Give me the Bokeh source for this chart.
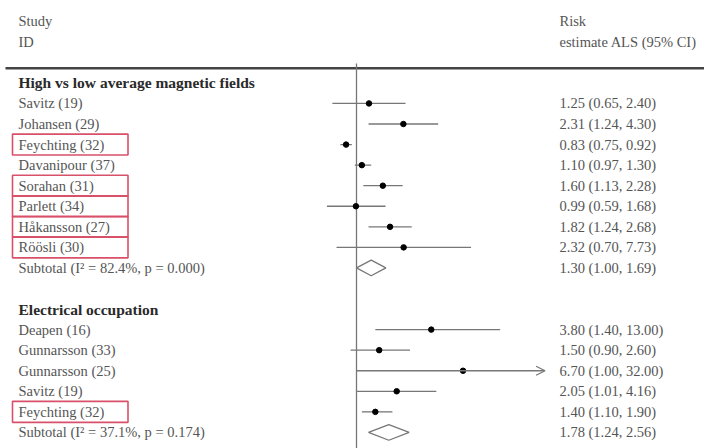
import math
from bokeh.plotting import figure
from bokeh.models import Range1d, ColumnDataSource, Arrow, OpenHead
from bokeh.core.properties import value
from bokeh.embed import file_html
from bokeh.resources import INLINE

# ---------------- data ----------------
group_names = ["High vs low average magnetic fields", "Electrical occupation"]

g1_studies = ["Savitz (19)", "Johansen (29)", "Feychting (32)", "Davanipour (37)",
              "Sorahan (31)", "Parlett (34)", "Håkansson (27)", "Röösli (30)"]
g1_est = [1.25, 2.31, 0.83, 1.10, 1.60, 0.99, 1.82, 2.32]
g1_lo = [0.65, 1.24, 0.75, 0.97, 1.13, 0.59, 1.24, 0.70]
g1_hi = [2.40, 4.30, 0.92, 1.30, 2.28, 1.68, 2.68, 7.73]
g1_boxed = [False, False, True, False, True, True, True, True]
g1_subtotal_label = "Subtotal (I² = 82.4%, p = 0.000)"
g1_subtotal = [1.30, 1.00, 1.69]

g2_studies = ["Deapen (16)", "Gunnarsson (33)", "Gunnarsson (25)", "Savitz (19)", "Feychting (32)"]
g2_est = [3.80, 1.50, 6.70, 2.05, 1.40]
g2_lo = [1.40, 0.90, 1.00, 1.01, 1.10]
g2_hi = [13.00, 2.60, 32.00, 4.16, 1.90]
g2_boxed = [False, False, False, False, True]
g2_subtotal_label = "Subtotal (I² = 37.1%, p = 0.174)"
g2_subtotal = [1.78, 1.24, 2.56]

header_left = ["Study", "ID"]
header_right = ["Risk", "estimate ALS (95% CI)"]
x_axis_max = 29.0  # CIs beyond this are drawn as arrows

groups = [
    (group_names[0], g1_studies, g1_est, g1_lo, g1_hi, g1_boxed, g1_subtotal_label, g1_subtotal),
    (group_names[1], g2_studies, g2_est, g2_lo, g2_hi, g2_boxed, g2_subtotal_label, g2_subtotal),
]

# ---------------- layout helpers ----------------
W, H = 704, 448
X_ONE = 356.0      # frame pixel of value 1
PX_PER_LN = 56.0
ROW_PX = 20.56
ROW0_PX = 82.4     # frame pixel of row 0


def px(x):
    """frame pixel -> data x (log scale)"""
    return math.exp((x - X_ONE) / PX_PER_LN)


LEFT_X = px(18)
RIGHT_X = px(559)
TEXT_FONT = value("Liberation Serif")
GREY = "#555555"
LINE_GREY = "#777777"
FS = "14.5px"

p = figure(width=W, height=H, x_axis_type="log",
           x_range=Range1d(px(0), px(W)),
           y_range=Range1d(start=(H - ROW0_PX) / ROW_PX, end=-ROW0_PX / ROW_PX),
           output_backend="svg", toolbar_location=None, min_border=0)
p.axis.visible = False
p.grid.visible = False
p.outline_line_color = None
p.background_fill_color = "white"
p.border_fill_color = "white"

# ---------------- assemble rows ----------------
label_rows, label_text = [], []
head_rows, head_text = [], []
st_rows, st_est, st_lo, st_hi = [], [], [], []
box_rows = []
sub_rows, sub_lo, sub_est, sub_hi = [], [], [], []
row = 0
for name, studies, est, lo, hi, boxed, sl, sv in groups:
    head_rows.append(row)
    head_text.append(name)
    row += 1
    for s, e, l, h, b in zip(studies, est, lo, hi, boxed):
        label_rows.append(row)
        label_text.append(s)
        st_rows.append(row)
        st_est.append(e)
        st_lo.append(l)
        st_hi.append(h)
        if b:
            box_rows.append(row)
        row += 1
    sub_rows.append(row)
    sub_est.append(sv[0])
    sub_lo.append(sv[1])
    sub_hi.append(sv[2])
    label_rows.append(row)
    label_text.append(sl)
    row += 1
    row += 1  # blank line

# red highlight boxes
p.quad(left=[px(12)] * len(box_rows), right=[px(127.5)] * len(box_rows),
       top=[r - 0.51 for r in box_rows], bottom=[r + 0.51 for r in box_rows],
       fill_color=None, line_color="#d9506a", line_width=1.6)

# header rule and null line
p.segment(x0=[px(5)], x1=[px(W)], y0=[-0.715], y1=[-0.715], line_color="#444444", line_width=2.6)
p.segment(x0=[1.0], x1=[1.0], y0=[-0.94], y1=[30], line_color=LINE_GREY, line_width=1.3)

# CI lines
norm = [i for i in range(len(st_rows)) if st_hi[i] <= x_axis_max]
clip = [i for i in range(len(st_rows)) if st_hi[i] > x_axis_max]
p.segment(x0=[st_lo[i] for i in norm], x1=[st_hi[i] for i in norm],
          y0=[st_rows[i] for i in norm], y1=[st_rows[i] for i in norm],
          line_color=LINE_GREY, line_width=1.3)
if clip:
    asrc = ColumnDataSource(dict(x0=[st_lo[i] for i in clip], x1=[x_axis_max] * len(clip),
                                 y=[st_rows[i] for i in clip]))
    p.add_layout(Arrow(end=OpenHead(size=9, line_color=LINE_GREY, line_width=1.3),
                       x_start="x0", y_start="y", x_end="x1", y_end="y", source=asrc,
                       line_color=LINE_GREY, line_width=1.3))

# point estimates
p.scatter(x=st_est, y=st_rows, size=5.5, marker="circle", fill_color="black", line_color="black")

# subtotal diamonds
hh = 0.38
p.patches(xs=[[l, e, h, e] for l, e, h in zip(sub_lo, sub_est, sub_hi)],
          ys=[[r, r - hh, r, r + hh] for r in sub_rows],
          fill_color="white", line_color=LINE_GREY, line_width=1.3)

# texts
p.text(x=[LEFT_X] * 2, y=[-3, -2], text=header_left, text_font=TEXT_FONT,
       text_font_size=FS, text_color=GREY, text_baseline="middle")
p.text(x=[RIGHT_X] * 2, y=[-3, -2], text=header_right, text_font=TEXT_FONT,
       text_font_size=FS, text_color=GREY, text_baseline="middle")
p.text(x=[LEFT_X] * len(head_rows), y=head_rows, text=head_text, text_font=TEXT_FONT,
       text_font_size="15.5px", text_font_style="bold", text_color="#2a2a2a", text_baseline="middle")
p.text(x=[LEFT_X] * len(label_rows), y=label_rows, text=label_text, text_font=TEXT_FONT,
       text_font_size=FS, text_color=GREY, text_baseline="middle")

val_rows = st_rows + sub_rows
val_text = [f"{e:.2f} ({l:.2f}, {h:.2f})" for e, l, h in zip(st_est + sub_est, st_lo + sub_lo, st_hi + sub_hi)]
p.text(x=[RIGHT_X] * len(val_rows), y=val_rows, text=val_text, text_font=TEXT_FONT,
       text_font_size=FS, text_color=GREY, text_baseline="middle")

open("out.html", "w").write(file_html(p, INLINE))
